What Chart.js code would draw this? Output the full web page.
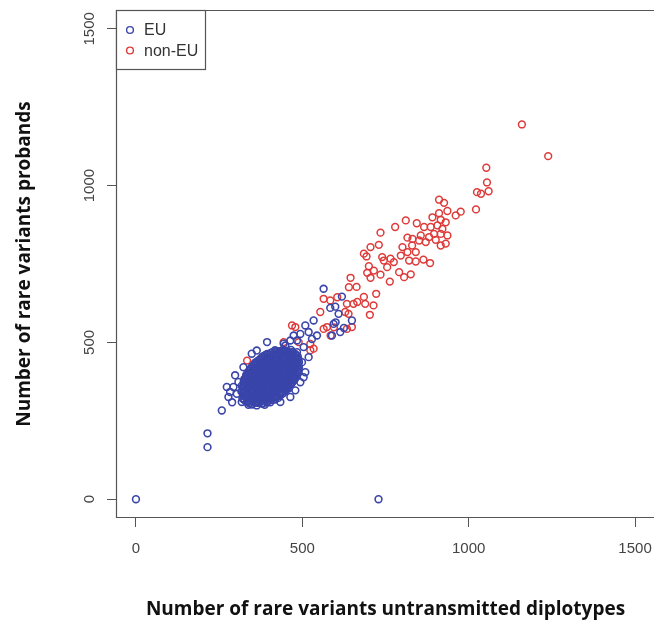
<!DOCTYPE html>
<html lang="en">
<head>
<meta charset="UTF-8">
<title>Rare variants: probands vs untransmitted diplotypes</title>
<script src="https://cdn.jsdelivr.net/npm/chart.js"></script>
<style>
  html, body {
    margin: 0;
    padding: 0;
    background: #fff;
    overflow: hidden;
  }
  #wrap {
    width: 656px;
    height: 624px;
  }
</style>
</head>
<body>
<div id="wrap">
  <canvas id="scatter" width="656" height="624"></canvas>
</div>
<script>
// axis ticks
const xTicks = [0, 500, 1000, 1500];
const yTicks = [0, 500, 1000, 1500];
const seriesNames = ['EU', 'non-EU'];
const seriesColors = ['#3a45aa', '#de3a3a'];

// EU samples [untransmitted, probands]
const euPoints = [
  // dense core
  [342,305],[349,302],[365,307],[380,304],[387,301],
  [326,316],[338,312],[350,318],[360,314],[374,311],[386,317],[396,313],[408,316],[417,320],
  [320,322],[331,326],[345,323],[355,327],[369,321],[378,325],[393,324],[403,320],[417,326],[428,323],
  [322,335],[336,331],[348,336],[359,333],[372,338],[384,332],[395,335],[409,337],[420,331],[432,334],[440,336],
  [317,343],[328,346],[343,341],[353,345],[367,347],[377,342],[391,344],[401,346],[415,341],[425,347],[439,343],[449,345],
  [321,356],[335,352],[346,357],[360,353],[371,355],[384,351],[396,357],[407,354],[421,352],[431,356],[445,353],[455,357],[460,354],
  [318,362],[330,366],[344,363],[354,367],[368,361],[379,365],[392,364],[402,368],[416,362],[426,366],[440,363],[451,361],[464,365],
  [324,375],[338,372],[349,377],[362,373],[373,376],[387,371],[398,375],[411,378],[422,372],[436,376],[447,374],[460,377],[470,373],[474,378],
  [326,383],[336,386],[350,382],[360,387],[374,384],[384,381],[398,386],[408,383],[422,385],[432,382],[446,387],[456,384],[469,381],[479,385],
  [331,395],[344,392],[356,397],[369,393],[381,396],[392,391],[405,395],[417,398],[429,392],[441,396],[453,394],[466,397],[476,393],[484,396],
  [335,403],[346,406],[360,402],[370,407],[384,404],[394,401],[408,406],[418,403],[432,405],[442,402],[456,407],[466,404],[480,401],[487,405],
  [343,415],[357,412],[368,417],[381,413],[393,416],[404,411],[417,415],[429,418],[441,412],[452,416],[465,414],[477,417],[488,413],
  [349,423],[360,426],[374,422],[384,427],[398,424],[408,421],[422,426],[432,423],[446,425],[456,422],[470,427],[480,424],[490,421],
  [358,435],[372,432],[384,437],[397,433],[408,436],[421,431],[432,435],[445,438],[456,432],[469,436],[480,434],[490,437],
  [369,443],[380,446],[394,442],[404,447],[418,444],[428,441],[442,446],[452,443],[466,445],[476,442],[488,447],
  [381,455],[395,452],[406,457],[419,453],[430,456],[443,451],[455,455],[466,458],[478,452],[486,456],
  [394,463],[405,466],[419,462],[429,467],[443,464],[453,461],[467,466],[479,463],
  [418,475],[431,472],[442,477],[455,473],[466,476],
  // more of the core, between the rows above
  [333,309],[345,311],[357,308],[369,310],[381,307],[393,310],[404,309],
  [323,319],[335,321],[347,318],[359,320],[371,317],[383,322],[395,319],[407,321],[419,318],
  [325,329],[338,331],[350,328],[362,330],[374,327],[386,332],[398,329],[410,331],[422,328],[433,330],
  [323,339],[335,341],[347,338],[359,340],[371,337],[383,342],[395,339],[407,341],[419,338],[431,340],[443,339],
  [323,349],[336,351],[348,348],[360,350],[372,347],[384,352],[396,349],[408,351],[420,348],[432,350],[444,349],[454,351],
  [324,359],[336,361],[348,358],[360,360],[372,357],[384,362],[396,359],[408,361],[420,358],[432,360],[444,359],[456,361],
  [325,369],[337,371],[349,368],[361,370],[373,367],[385,372],[397,369],[409,371],[421,368],[433,370],[445,369],[457,371],[467,368],
  [329,379],[341,381],[353,378],[365,380],[377,377],[389,382],[401,379],[413,381],[425,378],[437,380],[449,379],[461,381],[473,378],
  [331,389],[343,391],[355,388],[367,390],[379,387],[391,392],[403,389],[415,391],[427,388],[439,390],[451,389],[463,391],[475,388],
  [338,399],[350,401],[362,398],[374,400],[386,397],[398,402],[410,399],[422,401],[434,398],[446,400],[458,399],[470,401],[481,398],
  [340,409],[352,411],[364,408],[376,410],[388,407],[400,412],[412,409],[424,411],[436,408],[448,410],[460,409],[472,411],[484,408],
  [354,419],[366,421],[378,418],[390,420],[402,417],[414,422],[426,419],[438,421],[450,418],[462,420],[474,419],[486,421],
  [355,429],[367,431],[379,428],[391,430],[403,427],[415,432],[427,429],[439,431],[451,428],[463,430],[475,429],[487,431],
  [364,439],[376,441],[388,438],[400,440],[412,437],[424,442],[436,439],[448,441],[460,438],[472,440],[484,439],
  [375,449],[387,451],[399,448],[411,450],[423,447],[435,452],[447,449],[459,451],[471,448],[483,450],
  [388,459],[400,461],[412,458],[424,460],[436,457],[448,462],[460,459],[472,461],[481,458],
  [410,469],[422,471],[434,468],[446,470],[458,467],[470,469],
  // edge of the core
  [258,283],[273,358],[283,342],[293,358],[278,326],[303,336],[308,374],[318,310],[338,301],[363,299],
  [394,308],[298,395],[323,421],[348,464],[363,474],[394,501],[444,496],[484,448],[499,437],[504,389],
  [494,373],[509,405],[479,347],[464,326],[434,310],[444,474],[484,469],[289,309],
  // tail towards non-EU
  [564,671],[619,646],[599,614],[584,610],[609,591],[594,559],[614,533],[589,522],[649,570],[534,570],
  [509,554],[494,527],[519,533],[529,511],[474,522],[504,485],[484,506],[464,506],[449,490],[625,546],
  [600,564],[519,453],[544,522],
  // outliers
  [0,0],[729,0],[215,210],[215,166]
];

// non-EU samples
const nonEuPoints = [
  [1160,1195],[1239,1094],[1053,1057],[1055,1010],[1060,982],[1025,979],[1037,974],[1022,924],
  [911,955],[926,945],[976,917],[961,905],[911,912],[936,919],[891,899],[916,891],[811,889],[844,880],
  [779,868],[735,850],[730,811],[685,783],[693,774],[700,743],[695,722],[705,706],[735,716],[763,694],
  [645,706],[663,677],[722,655],[703,588],[665,629],[685,645],[826,717],[806,708],[791,724],[745,761],
  [765,767],[740,772],[796,777],[821,761],[841,758],[864,764],[884,753],[816,788],[841,788],[801,804],
  [816,834],[831,830],[856,841],[881,836],[896,846],[916,846],[936,841],[931,815],[916,809],[871,820],
  [851,825],[886,868],[906,873],[921,862],[866,868],[931,883],[901,827],[830,809],[775,756],[755,740],
  [705,804],[715,729],[654,623],[634,623],[629,597],[639,591],[564,639],[584,634],[554,597],[564,543],
  [574,549],[634,543],[649,549],[469,554],[479,549],[534,480],[524,475],[689,623],[714,618],[640,676],
  [605,644],[595,548],[585,522],[524,495],[489,501],[444,501],[334,442]
];

const toXY = pts => pts.map(p => ({ x: p[0], y: p[1] }));

// box round the plot (its right side falls off the page) plus the legend
const frameAndLegend = {
  id: 'frameAndLegend',
  afterDatasetsDraw(chart) {
    const ctx = chart.ctx;
    const a = chart.chartArea;
    ctx.save();
    ctx.strokeStyle = '#555';
    ctx.lineWidth = 1.2;
    ctx.beginPath();
    ctx.moveTo(a.right + 2, a.top + 0.5);
    ctx.lineTo(a.left + 0.5, a.top + 0.5);
    ctx.lineTo(a.left + 0.5, a.bottom - 0.5);
    ctx.lineTo(a.right + 2, a.bottom - 0.5);
    ctx.stroke();

    const lw = 89, lh = 59;
    ctx.fillStyle = '#fff';
    ctx.fillRect(a.left + 0.5, a.top + 0.5, lw, lh);
    ctx.strokeRect(a.left + 0.5, a.top + 0.5, lw, lh);
    ctx.font = '16px "Liberation Sans", Arial, sans-serif';
    ctx.textBaseline = 'middle';
    seriesNames.forEach((name, i) => {
      const cy = a.top + 20 + i * 20.5;
      ctx.beginPath();
      ctx.arc(a.left + 14, cy, 3.4, 0, Math.PI * 2);
      ctx.strokeStyle = seriesColors[i];
      ctx.lineWidth = 1.4;
      ctx.stroke();
      ctx.fillStyle = '#333';
      ctx.fillText(name, a.left + 28, cy + 1);
    });
    ctx.restore();
  }
};

const tickFont = { family: '"Liberation Sans", Arial, sans-serif', size: 15 };
const titleFont = { family: '"Open Sans", Lato, sans-serif', size: 19, weight: 'bold' };
const plainNumber = v => String(v);

new Chart(document.getElementById('scatter'), {
  type: 'scatter',
  data: {
    datasets: [
      {
        label: seriesNames[0],
        data: toXY(euPoints),
        borderColor: seriesColors[0],
        backgroundColor: 'rgba(0,0,0,0)',
        pointRadius: 3.4,
        pointBorderWidth: 1.6,
        pointHoverRadius: 3.4
      },
      {
        label: seriesNames[1],
        data: toXY(nonEuPoints),
        borderColor: seriesColors[1],
        backgroundColor: 'rgba(0,0,0,0)',
        pointRadius: 3.4,
        pointBorderWidth: 1.5,
        pointHoverRadius: 3.4
      }
    ]
  },
  options: {
    responsive: false,
    animation: false,
    devicePixelRatio: 1,
    layout: { autoPadding: false, padding: { top: 10, right: 1, left: 0, bottom: 0 } },
    plugins: {
      legend: { display: false },
      tooltip: { enabled: false }
    },
    events: [],
    scales: {
      x: {
        type: 'linear',
        min: -60,
        max: 1560,
        afterBuildTicks: s => { s.ticks = xTicks.map(v => ({ value: v })); },
        afterFit: s => { s.height = 106; s.paddingLeft = 0; s.paddingRight = 0; },
        border: { display: false },
        grid: {
          drawOnChartArea: false,
          drawTicks: true,
          tickLength: 9,
          color: '#555'
        },
        ticks: {
          font: tickFont,
          color: '#444',
          padding: 13,
          maxRotation: 0,
          callback: plainNumber
        },
        title: {
          display: true,
          text: 'Number of rare variants untransmitted diplotypes',
          font: titleFont,
          color: '#111',
          padding: { top: 0, bottom: 3 }
        }
      },
      y: {
        type: 'linear',
        min: -60,
        max: 1560,
        afterBuildTicks: s => { s.ticks = yTicks.map(v => ({ value: v })); },
        afterFit: s => { s.width = 116; s.paddingTop = 0; s.paddingBottom = 0; },
        border: { display: false },
        grid: {
          drawOnChartArea: false,
          drawTicks: true,
          tickLength: 9,
          color: '#555'
        },
        ticks: {
          font: tickFont,
          color: '#444',
          padding: 0,
          minRotation: 90,
          maxRotation: 90,
          crossAlign: 'center',
          callback: plainNumber
        },
        title: {
          display: true,
          text: 'Number of rare variants probands',
          font: titleFont,
          color: '#111',
          padding: { top: 13, bottom: 0 }
        }
      }
    }
  },
  plugins: [frameAndLegend]
});
</script>
</body>
</html>
